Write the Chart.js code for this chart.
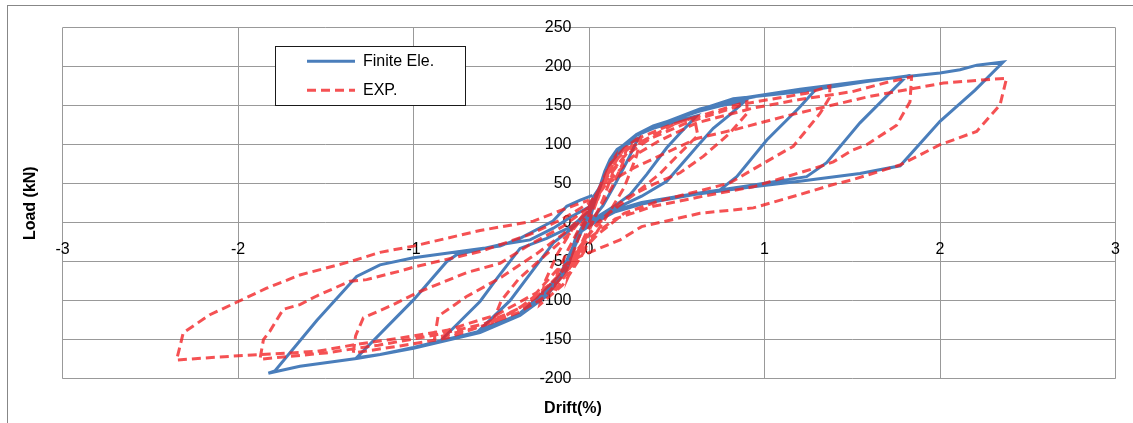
<!DOCTYPE html>
<html>
<head>
<meta charset="utf-8">
<script src="https://cdn.jsdelivr.net/npm/chart.js@4.4.0/dist/chart.umd.min.js"></script>
<style>
  html, body { margin: 0; padding: 0; background: #fff; }
  #wrap { position: relative; width: 1133px; height: 423px; }
</style>
</head>
<body>
<div id="wrap"><canvas id="c"></canvas></div>
<script>
// ---- Finite element (FE) hysteresis: drift (%) and load (kN) ----
const feDrift = [
  0, 0.03, 0.063, 0.1, 0.2, 0.28,
  0.22, 0.15, 0.08, 0.02, -0.04, -0.08, -0.127, -0.2,
  -0.15, -0.1, -0.05, 0,
  0.03, 0.063, 0.09, 0.12, 0.16, 0.215, 0.27, 0.366, 0.5, 0.614,
  0.52, 0.443, 0.329, 0.234, 0.15, 0.05, -0.03, -0.07, -0.127, -0.241, -0.393,
  -0.3, -0.165, -0.1, -0.05, 0,
  0.03, 0.063, 0.09, 0.12, 0.16, 0.215, 0.27, 0.366, 0.632, 0.75, 0.889,
  0.8, 0.708, 0.632, 0.575, 0.443, 0.3, 0.15, 0.03, -0.05, -0.127, -0.241, -0.393, -0.621,
  -0.45, -0.3, -0.2, -0.1, 0,
  0.03, 0.063, 0.09, 0.12, 0.16, 0.215, 0.27, 0.366, 0.632, 0.822, 1.0, 1.297,
  1.2, 1.013, 0.842, 0.746, 0.5, 0.3, 0.177, 0.05, -0.05, -0.127, -0.241, -0.393, -0.621, -0.849,
  -0.621, -0.52, -0.393, -0.241, -0.1, 0,
  0.03, 0.063, 0.09, 0.12, 0.16, 0.215, 0.27, 0.366, 0.632, 0.822, 1.202, 1.582, 1.81,
  1.544, 1.354, 1.24, 0.9, 0.6, 0.3, 0.15, 0.03, -0.05, -0.127, -0.241, -0.393, -0.621, -1.0, -1.19, -1.324,
  -1.0, -0.811, -0.754, -0.5, -0.336, -0.203, -0.1, 0,
  0.03, 0.063, 0.09, 0.12, 0.16, 0.215, 0.27, 0.366, 0.632, 0.822, 1.202, 1.582, 2.0, 2.114, 2.21, 2.36,
  2.2, 2.0, 1.773, 1.544, 1.2, 0.9, 0.6, 0.3, 0.15, 0.03, -0.05, -0.127, -0.241, -0.393, -0.621, -1.0, -1.19, -1.324, -1.647, -1.827,
  -1.79, -1.55, -1.324, -1.191, -1.0, -0.507, -0.393, -0.205, -0.127, -0.05, 0.02
];
const feLoad = [
  0, 25, 46, 70, 98, 108,
  80, 50, 22, 5, -10, -30, -58, -82,
  -60, -35, -10, 8,
  28, 45, 64, 79, 92, 101, 112, 121, 130, 137,
  115, 96, 62, 36, 22, 8, -5, -15, -56, -90, -116,
  -98, -67, -35, -10, 12,
  30, 46, 65, 80, 93, 102, 113, 124, 143, 150, 156,
  138, 121, 102, 87, 53, 34, 18, 3, -12, -58, -92, -118, -137,
  -100, -55, -25, -8, 12,
  30, 46, 65, 80, 93, 103, 113, 123, 146, 156, 164, 172,
  148, 106, 59, 42, 33, 25, 18, 5, -10, -60, -94, -119, -140, -152,
  -101, -70, -33, -20, -5, 15,
  32, 47, 66, 81, 94, 102, 112, 122, 145, 159, 168, 181, 188,
  128, 77, 59, 47, 37, 26, 16, 3, -12, -58, -92, -117, -139, -160, -169, -173,
  -99, -50, -41, -28, -22, -7, 8, 20,
  35, 46, 65, 80, 93, 102, 113, 123, 145, 158, 171, 182, 192, 196, 202, 206,
  170, 130, 73, 63, 53, 45, 36, 24, 14, 0, -12, -59, -93, -119, -141, -161, -169, -174, -184, -193,
  -190, -125, -69, -54, -45, -30, -20, 2, 21, 29, 35
];

// ---- Experimental (EXP) hysteresis: drift (%) and load (kN) ----
const expDrift = [
  0, 0.04, 0.08, 0.12, 0.15,
  0.13, 0.08, 0.03, -0.03, -0.08, -0.12,
  -0.1, -0.06, 0,
  0.05, 0.12, 0.2, 0.22,
  0.19, 0.13, 0.05, -0.02, -0.1, -0.2,
  -0.18, -0.12, -0.05, 0,
  0.05, 0.1, 0.2, 0.3,
  0.27, 0.2, 0.12, 0.05, -0.05, -0.15, -0.28,
  -0.25, -0.18, -0.1, 0,
  0.05, 0.15, 0.3, 0.45, 0.6,
  0.62, 0.5, 0.4, 0.25, 0.1, 0, -0.1, -0.25, -0.4, -0.55,
  -0.5, -0.4, -0.25, -0.1, 0,
  0.1, 0.25, 0.5, 0.9,
  0.9, 0.803, 0.651, 0.519, 0.366, 0.2, 0.05, -0.05, -0.2, -0.4, -0.6, -0.88,
  -0.86, -0.7, -0.5, -0.3, -0.15, 0,
  0.1, 0.2, 0.35, 0.557, 0.899, 1.24, 1.373,
  1.37, 1.316, 1.24, 1.164, 0.993, 0.803, 0.65, 0.4, 0.2, 0.05, -0.1, -0.184, -0.3, -0.526, -0.811, -1.077, -1.343,
  -1.33, -1.286, -1.134, -0.982, -0.697, -0.507, -0.336, -0.15, 0,
  0.1, 0.25, 0.4, 0.614, 0.936, 1.2, 1.5, 1.7, 1.838,
  1.829, 1.753, 1.582, 1.5, 1.392, 1.316, 1.126, 0.936, 0.651, 0.366, 0.15, 0, -0.1, -0.2, -0.35, -0.6, -0.9, -1.2, -1.5, -1.875,
  -1.855, -1.818, -1.742, -1.647, -1.552, -1.362, -1.267, -1.077, -0.982, -0.621, -0.336, -0.15, 0,
  0.1, 0.253, 0.614, 0.842, 1.126, 1.354, 1.6, 2.02, 2.3, 2.379,
  2.342, 2.209, 2.0, 1.772, 1.5, 1.392, 1.2, 0.936, 0.632, 0.3, 0.177, -0.05, -0.18, -0.3, -0.526, -0.811, -1.077, -1.324, -1.552, -1.875, -2.027, -2.35,
  -2.33, -2.312, -2.16, -2.008, -1.837, -1.647, -1.362, -1.19, -1.0, -0.621, -0.317, -0.146, 0
];
const expLoad = [
  0, 25, 50, 75, 85,
  60, 30, 5, -25, -50, -70,
  -45, -20, 10,
  40, 75, 95, 100,
  75, 45, 15, -15, -55, -90,
  -65, -35, -5, 15,
  30, 60, 95, 112,
  85, 45, 15, -10, -45, -80, -105,
  -75, -40, -10, 20,
  40, 80, 110, 124, 135,
  112, 85, 62, 35, 10, -15, -55, -95, -115, -128,
  -100, -72, -42, -12, 18,
  58, 98, 128, 155,
  140, 115, 85, 64, 49, 30, 0, -30, -75, -110, -132, -148,
  -120, -95, -70, -40, -15, 15,
  55, 85, 108, 128, 153, 166, 175,
  160, 140, 119, 98, 76, 51, 42, 28, 12, -15, -50, -70, -96, -126, -148, -158, -167,
  -145, -122, -107, -90, -64, -52, -28, -5, 20,
  50, 85, 105, 128, 147, 158, 168, 180, 187,
  155, 125, 100, 93, 78, 72, 59, 46, 34, 21, 5, -20, -45, -75, -105, -130, -145, -157, -167, -175,
  -150, -139, -111, -105, -94, -75, -73, -62, -56, -37, -15, 5, 25,
  50, 70, 108, 120, 137, 149, 162, 179, 184, 185,
  151, 117, 100, 74, 55, 49, 36, 19, 12, -5, -22, -43, -60, -90, -118, -138, -148, -156, -165, -169, -171, -176,
  -158, -141, -118, -102, -84, -67, -50, -38, -30, -10, 2, 17, 29
];

const seriesNames = ['Finite Ele.', 'EXP.'];
const xTickRange = [-3, 3, 1];      // min, max, step  (Drift %)
const yTickRange = [-200, 250, 50]; // min, max, step  (Load kN)

const toPts = (xs, ys) => xs.map((x, i) => ({ x: x, y: ys[i] }));

const FONT = "'Liberation Sans', Arial, sans-serif";
const GRID = '#999999';
const LEGEND_BOX = { x: 275.5, y: 46.5, w: 190, h: 59 };

const decor = {
  id: 'decor',
  beforeDraw(chart) {
    const ctx = chart.ctx;
    ctx.save();
    ctx.fillStyle = '#ffffff';
    ctx.fillRect(0, 0, chart.width, chart.height);
    ctx.strokeStyle = '#878787';
    ctx.lineWidth = 1;
    ctx.strokeRect(7.5, 5.5, chart.width + 20, chart.height + 20);
    ctx.restore();
  },
  afterLayout(chart) {
    const lg = chart.legend;
    if (!lg) return;
    const pad = lg.options.labels.padding;
    lg.left = 307 - pad;
    lg.top = 61.3 - pad - 8;
    lg.right = lg.left + 200;
    lg.bottom = lg.top + 120;
  },
  afterDraw(chart) {
    const ctx = chart.ctx;
    ctx.save();
    ctx.fillStyle = '#ffffff';
    ctx.fillRect(LEGEND_BOX.x, LEGEND_BOX.y, LEGEND_BOX.w, LEGEND_BOX.h);
    ctx.strokeStyle = '#1a1a1a';
    ctx.lineWidth = 1;
    ctx.strokeRect(LEGEND_BOX.x, LEGEND_BOX.y, LEGEND_BOX.w, LEGEND_BOX.h);
    ctx.restore();
    if (chart.legend) chart.legend.draw();
  }
};

new Chart(document.getElementById('c'), {
  type: 'scatter',
  data: {
    datasets: [
      {
        label: seriesNames[0],
        data: toPts(feDrift, feLoad),
        showLine: true,
        borderColor: '#4a7ebb',
        backgroundColor: '#4a7ebb',
        borderWidth: 3,
        pointRadius: 0,
        tension: 0,
        order: 1
      },
      {
        label: seriesNames[1],
        data: toPts(expDrift, expLoad),
        showLine: true,
        borderColor: 'rgba(242,32,34,0.78)',
        backgroundColor: 'rgba(242,32,34,0.78)',
        borderWidth: 3,
        borderDash: [9, 5],
        pointRadius: 0,
        tension: 0,
        order: 0
      }
    ]
  },
  options: {
    responsive: true,
    maintainAspectRatio: false,
    animation: false,
    layout: { padding: { left: 30.5, right: 17.5, top: 27.7, bottom: 0 } },
    scales: {
      x: {
        type: 'linear',
        min: xTickRange[0], max: xTickRange[1],
        position: { y: -21.8 },
        ticks: { stepSize: xTickRange[2], color: '#000', font: { family: FONT, size: 16 }, padding: 0 },
        grid: { color: GRID, lineWidth: 1, drawTicks: false },
        border: { display: false }
      },
      y: {
        type: 'linear',
        min: yTickRange[0], max: yTickRange[1],
        position: { x: -0.1 },
        ticks: { stepSize: yTickRange[2], color: '#000', font: { family: FONT, size: 16 }, padding: 0 },
        grid: { color: GRID, lineWidth: 1, drawTicks: false },
        border: { display: false }
      }
    },
    plugins: {
      legend: {
        display: true,
        position: 'chartArea',
        align: 'start',
        labels: {
          usePointStyle: true,
          pointStyle: 'line',
          pointStyleWidth: 48,
          padding: 13,
          color: '#000',
          font: { family: FONT, size: 16 },
          sort: (a, b) => a.datasetIndex - b.datasetIndex,
          generateLabels(chart) {
            const items = Chart.defaults.plugins.legend.labels.generateLabels(chart);
            return items.map(it => {
              const ds = chart.data.datasets[it.datasetIndex];
              it.lineDash = ds.borderDash || [];
              it.lineWidth = ds.borderWidth;
              it.strokeStyle = ds.borderColor;
              it.fillStyle = ds.borderColor;
              return it;
            });
          }
        }
      },
      title: {
        display: true,
        text: 'Load (kN)',
        position: 'left',
        fullSize: false,
        color: '#000',
        font: { family: FONT, size: 16, weight: 'bold' },
        padding: { top: -9.1, bottom: 21.9 }
      },
      subtitle: {
        display: true,
        text: 'Drift(%)',
        position: 'bottom',
        fullSize: true,
        color: '#000',
        font: { family: FONT, size: 16, weight: 'bold' },
        padding: { top: 20.7, bottom: 4.4 }
      },
      tooltip: { enabled: false }
    }
  },
  plugins: [decor]
});
</script>
</body>
</html>
